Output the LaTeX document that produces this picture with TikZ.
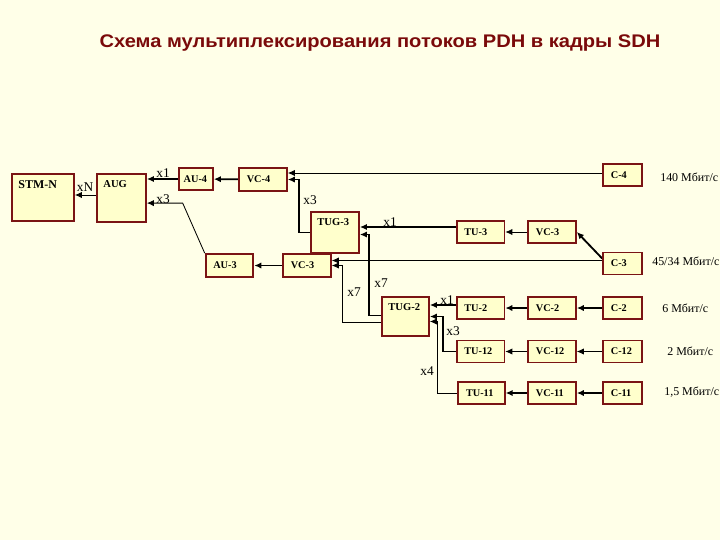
\documentclass[tikz,border=0pt]{standalone}
\usepackage{fontspec}
\setmainfont{Liberation Serif}
\newfontfamily\titlefont{Liberation Sans}
\usepackage{xcolor}
\usetikzlibrary{arrows.meta, calc, backgrounds}
\definecolor{bgcol}{HTML}{FFFFE8}
\definecolor{boxfill}{HTML}{FFFFCC}
\definecolor{boxred}{HTML}{7A1414}
\definecolor{titlered}{HTML}{7A0A0A}

\begin{document}
\begin{tikzpicture}[
  x=0.025cm, y=-0.025cm,
  box/.style     = {draw=boxred, fill=boxfill, line width=1.3pt,
                    font=\fontsize{7.3}{8}\selectfont\bfseries,
                    inner xsep=5.5pt, inner ysep=0pt, minimum height=0.55cm,
                    text width=23pt, align=left},
  cbox/.style    = {box, text width=16.6pt},
  bigbox/.style  = {draw=boxred, fill=boxfill, line width=1.3pt},
  bigtxt/.style  = {anchor=north west, inner sep=0pt, xshift=5pt, yshift=-5pt,
                    font=\fontsize{7.5}{8}\selectfont\bfseries},
  thkarr/.style  = {-{Latex[length=5pt,width=4.5pt]}, line width=1.3pt},
  thnarr/.style  = {-{Latex[length=5pt,width=4.5pt]}, line width=0.6pt},
  lbl/.style     = {font=\fontsize{9.5}{10}\selectfont, inner sep=0pt},
  rate/.style    = {font=\fontsize{8.5}{9}\selectfont, anchor=west, inner sep=0pt},
]
\begin{pgfonlayer}{background}
  \fill[bgcol] (0,0) rectangle (720,540);
\end{pgfonlayer}
\useasboundingbox (0,0) rectangle (720,540);

%% ── Title ─────────────────────────────────────────────────────────
\node[font=\titlefont\bfseries\fontsize{13}{15}\selectfont, text=titlered,
      xscale=1.1] (title) at (380,43)
  {Схема мультиплексирования потоков PDH в кадры SDH};

%% ── Left part: STM-N, AUG, AU ─────────────────────────────────────
\node[bigbox, minimum width=1.55cm, minimum height=1.175cm,
      label={[bigtxt, font=\fontsize{8.5}{9}\selectfont\bfseries]north west:STM-N}]
  (stm) at (43,197.5) {};
\node[bigbox, minimum width=1.225cm, minimum height=1.2cm,
      label={[bigtxt]north west:AUG}] (aug) at (121.5,198) {};
\node[box, text width=17.5pt, inner xsep=3.3pt] (au4) at (196,179) {\mbox{AU-4}};
\node[box, minimum height=0.575cm] (vc4) at (263,179.5) {VC-4};
\node[box, minimum height=0.575cm] (au3) at (229.5,265.5) {AU-3};
\node[box, minimum height=0.575cm] (vc3a) at (307,265.5) {VC-3};

%% ── TUG-3 branch ─────────────────────────────────────────────────
\node[bigbox, minimum width=1.2cm, minimum height=1.025cm,
      label={[bigtxt]north west:TUG-3}] (tug3) at (335,232.5) {};
\node[box] (tu3)  at (480.5,232) {TU-3};
\node[box] (vc3b) at (552,232)   {VC-3};

%% ── Containers ───────────────────────────────────────────────────
\node[cbox] (c4)  at (622.5,175)   {C-4};
\node[cbox] (c3)  at (622.5,263.5) {C-3};
\node[cbox] (c2)  at (622.5,308)   {C-2};
\node[cbox] (c12) at (622.5,351.5) {C-12};
\node[cbox] (c11) at (622.5,393)   {C-11};

%% ── TUG-2 branch ─────────────────────────────────────────────────
\node[bigbox, minimum width=1.175cm, minimum height=0.975cm,
      label={[bigtxt]north west:TUG-2}] (tug2) at (405.5,316.5) {};
\node[box] (tu2)  at (480.5,308)   {TU-2};
\node[box] (vc2)  at (552,308)     {VC-2};
\node[box] (tu12) at (480.5,351.5) {TU-12};
\node[box] (vc12) at (552,351.5)   {VC-12};
\node[box, text width=22pt] (tu11) at (481.5,393) {TU-11};
\node[box] (vc11) at (552,393)     {VC-11};

%% ── Rates ────────────────────────────────────────────────────────
\node[rate] (r4)  at (660,177) {140 Мбит/с};
\node[rate] (r3)  at (652,261) {45/34 Мбит/с};
\node[rate] (r2)  at (662,308) {6 Мбит/с};
\node[rate] (r12) at (667,351) {2 Мбит/с};
\node[rate] (r11) at (664,392) {1,5 Мбит/с};

\begin{pgfonlayer}{background}
%% ── Connectors, upper part ───────────────────────────────────────
\draw[thnarr] ($(aug.west)+(0,-3)$) coordinate (augw) -- (augw -| stm.east);
\draw[thkarr] (au4.west) -- (au4.west -| aug.east);
\draw[thkarr] (vc4) -- (au4);
\draw[thnarr] ($(c4.west)+(0,-2)$) coordinate (c4w) -- (c4w -| vc4.east);
\draw[thkarr] (tug3.west) -- ++(-11,0) |- (vc4.east);
\draw[thnarr] (au3.north west) -- ++(-22,-50) coordinate (au3k)
  -- (au3k -| aug.east);
\draw[thkarr] (vc3a) -- (au3);

%% ── Connectors, TUG-3 ────────────────────────────────────────────
\draw[thkarr] ($(tu3.west)+(0,-5)$) coordinate (tu3w) -- (tu3w -| tug3.east);
\draw[thnarr] (vc3b) -- (tu3);
\draw[thkarr] ($(c3.west)+(0,-5)$) -- (vc3b.east);
\draw[thnarr] ($(c3.west)+(0,-3)$) coordinate (c3w) -- (c3w -| vc3a.east);

%% ── Connectors, TUG-2 ────────────────────────────────────────────
\draw[thkarr] ($(tug2.west)+(0,-1)$) -- ++(-12,0) |- ($(tug3.east)+(0,2)$);
\draw[thnarr] ($(tug2.west)+(0,6)$) -- ++(-39,0) |- (vc3a.east);
\draw[thkarr] ($(tu2.west)+(0,-3)$) coordinate (tu2w) -- (tu2w -| tug2.east);
\draw[thkarr] (vc2) -- (tu2);
\draw[thkarr] (c2) -- (vc2);
\draw[thkarr] (tu12.west) -- ++(-13,0) |- (tug2.east);
\draw[thnarr] (vc12) -- (tu12);
\draw[thnarr] (c12) -- (vc12);
\draw[thnarr] (tu11.west) -- ++(-20,0) |- ($(tug2.east)+(0,5)$);
\draw[thkarr] (vc11) -- (tu11);
\draw[thkarr] (c11) -- (vc11);
\end{pgfonlayer}

%% ── Multiplicity labels ──────────────────────────────────────────
\node[lbl] (mN)   at (85,187)  {xN};
\node[lbl] (m1a)  at (163,173) {x1};
\node[lbl] (m3a)  at (163,199) {x3};
\node[lbl] (m3b)  at (310,200) {x3};
\node[lbl] (m1b)  at (390,222) {x1};
\node[lbl] (m7a)  at (354,292) {x7};
\node[lbl] (m7b)  at (381,283) {x7};
\node[lbl] (m1c)  at (447,300) {x1};
\node[lbl] (m3c)  at (453,331) {x3};
\node[lbl] (m4)   at (427,371) {x4};

\end{tikzpicture}
\end{document}
